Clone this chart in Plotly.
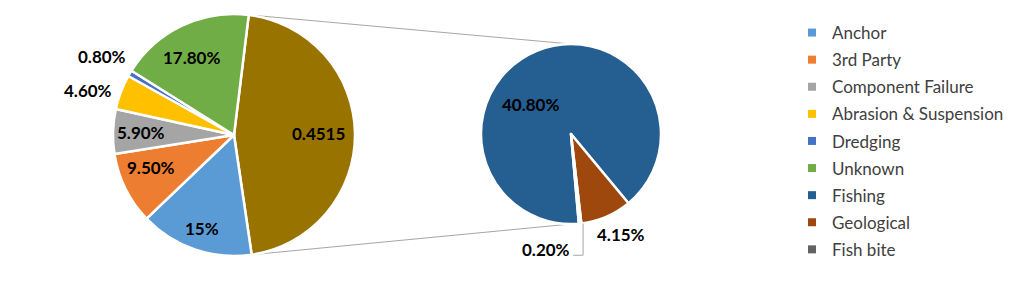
import math
import plotly.graph_objects as go

# ---- data ----
main_labels = ["Other", "Anchor", "3rd Party", "Component Failure",
               "Abrasion & Suspension", "Dredging", "Unknown"]
main_values = [0.4515, 0.15, 0.095, 0.059, 0.046, 0.008, 0.178]
main_text = ["0.4515", "15%", "9.50%", "5.90%", "4.60%", "0.80%", "17.80%"]

sub_labels = ["Fishing", "Geological", "Fish bite"]
sub_values = [0.408, 0.0415, 0.002]
sub_text = ["40.80%", "4.15%", "0.20%"]

legend_labels = ["Anchor", "3rd Party", "Component Failure", "Abrasion & Suspension",
                 "Dredging", "Unknown", "Fishing", "Geological", "Fish bite"]

# ---- styles ----
colors = {
    "Other": "#997300", "Anchor": "#5B9BD5", "3rd Party": "#ED7D31",
    "Component Failure": "#A5A5A5", "Abrasion & Suspension": "#FFC000",
    "Dredging": "#4472C4", "Unknown": "#70AD47", "Fishing": "#255E91",
    "Geological": "#9E480E", "Fish bite": "#636363",
}
W, H = 1036, 285
FONT = "Lato"
LABEL_SIZE = 17

# pixel geometry of the two pies
L_CX, L_CY, L_R = 234, 135, 121
R_CX, R_CY, R_R = 571, 134, 90
L_ROT = 7
R_ROT = 175

# label placement style: (radius fraction, angle shift in degrees) per slice
main_lab_style = [(0.70, 0), (0.82, 0), (0.74, 5), (0.77, 0), (1.26, -4), (1.27, 0), (0.73, -3)]
sub_lab_style = [(0.56, -32), (1.25, -3), (1.31, 18)]


def dom(cx, cy, r):
    return dict(x=[(cx - r) / W, (cx + r) / W], y=[1 - (cy + r) / H, 1 - (cy - r) / H])


def mid_angles(values, rot):
    tot = sum(values)
    out, cum = [], 0.0
    for v in values:
        out.append(rot + 360 * (cum + v / 2) / tot)
        cum += v
    return out


def polar(cx, cy, r, deg):
    a = math.radians(deg)
    return cx + r * math.sin(a), cy - r * math.cos(a)


fig = go.Figure()
fig.add_trace(go.Pie(
    labels=main_labels, values=main_values, text=main_text, textinfo="none",
    sort=False, direction="clockwise", rotation=L_ROT, domain=dom(L_CX, L_CY, L_R),
    marker=dict(colors=[colors[l] for l in main_labels], line=dict(color="white", width=2.5)),
    showlegend=False, hoverinfo="label+text",
))
fig.add_trace(go.Pie(
    labels=sub_labels, values=sub_values, text=sub_text, textinfo="none",
    sort=False, direction="clockwise", rotation=R_ROT, domain=dom(R_CX, R_CY, R_R),
    marker=dict(colors=[colors[l] for l in sub_labels], line=dict(color="white", width=2.5)),
    showlegend=False, hoverinfo="label+text",
))

# data labels placed from the slice angles
label_font = dict(family=FONT, size=LABEL_SIZE, color="black", weight="bold")
for vals, texts, styles, (cx, cy, r, rot) in [
    (main_values, main_text, main_lab_style, (L_CX, L_CY, L_R, L_ROT)),
    (sub_values, sub_text, sub_lab_style, (R_CX, R_CY, R_R, R_ROT)),
]:
    for ang, txt, (k, dth) in zip(mid_angles(vals, rot), texts, styles):
        x, y = polar(cx, cy, k * r, ang + dth)
        fig.add_annotation(x=x / W, y=1 - y / H, xref="paper", yref="paper",
                           text="<b>%s</b>" % txt, showarrow=False,
                           xanchor="center", yanchor="middle", font=label_font)

# leader line for the tiny "Fish bite" slice
fb_ang = mid_angles(sub_values, R_ROT)[2]
sx, sy = polar(R_CX, R_CY, R_R, fb_ang)
lx, ly = polar(R_CX, R_CY, sub_lab_style[2][0] * R_R, fb_ang + sub_lab_style[2][1])
path = "M %f,%f L %f,%f L %f,%f" % (
    (sx + 3) / W, 1 - sy / H, (sx + 3) / W, 1 - (ly + 6) / H, (lx + 27) / W, 1 - (ly + 6) / H)
fig.add_shape(type="path", path=path, xref="paper", yref="paper",
              line=dict(color="#A6A6A6", width=1))

# legend entries
for lab in legend_labels:
    fig.add_trace(go.Scatter(
        x=[None], y=[None], mode="markers", name=lab, legendgroup=lab,
        marker=dict(symbol="square", size=8, color=colors[lab]),
    ))

# connector lines from the "Other" slice edges to the secondary pie
total = sum(main_values)
p1 = polar(L_CX, L_CY, L_R, L_ROT)
p2 = polar(L_CX, L_CY, L_R, L_ROT + 360 * main_values[0] / total)
q1 = (R_CX, R_CY - R_R)
q2 = (R_CX, R_CY + R_R)
for p, q in [(p1, q1), (p2, q2)]:
    fig.add_shape(type="line", xref="paper", yref="paper",
                  x0=p[0] / W, y0=1 - p[1] / H, x1=q[0] / W, y1=1 - q[1] / H,
                  line=dict(color="#A6A6A6", width=1), layer="below")

fig.update_layout(
    width=W, height=H, margin=dict(l=0, r=0, t=0, b=0),
    paper_bgcolor="white", plot_bgcolor="white",
    xaxis=dict(visible=False), yaxis=dict(visible=False),
    legend=dict(x=792 / W, y=1 - 15 / H, xanchor="left", yanchor="top",
                font=dict(family=FONT, size=17, color="#404040"),
                tracegroupgap=2, bgcolor="rgba(0,0,0,0)"),
    font=dict(family=FONT),
)

fig.write_html("out.html")
